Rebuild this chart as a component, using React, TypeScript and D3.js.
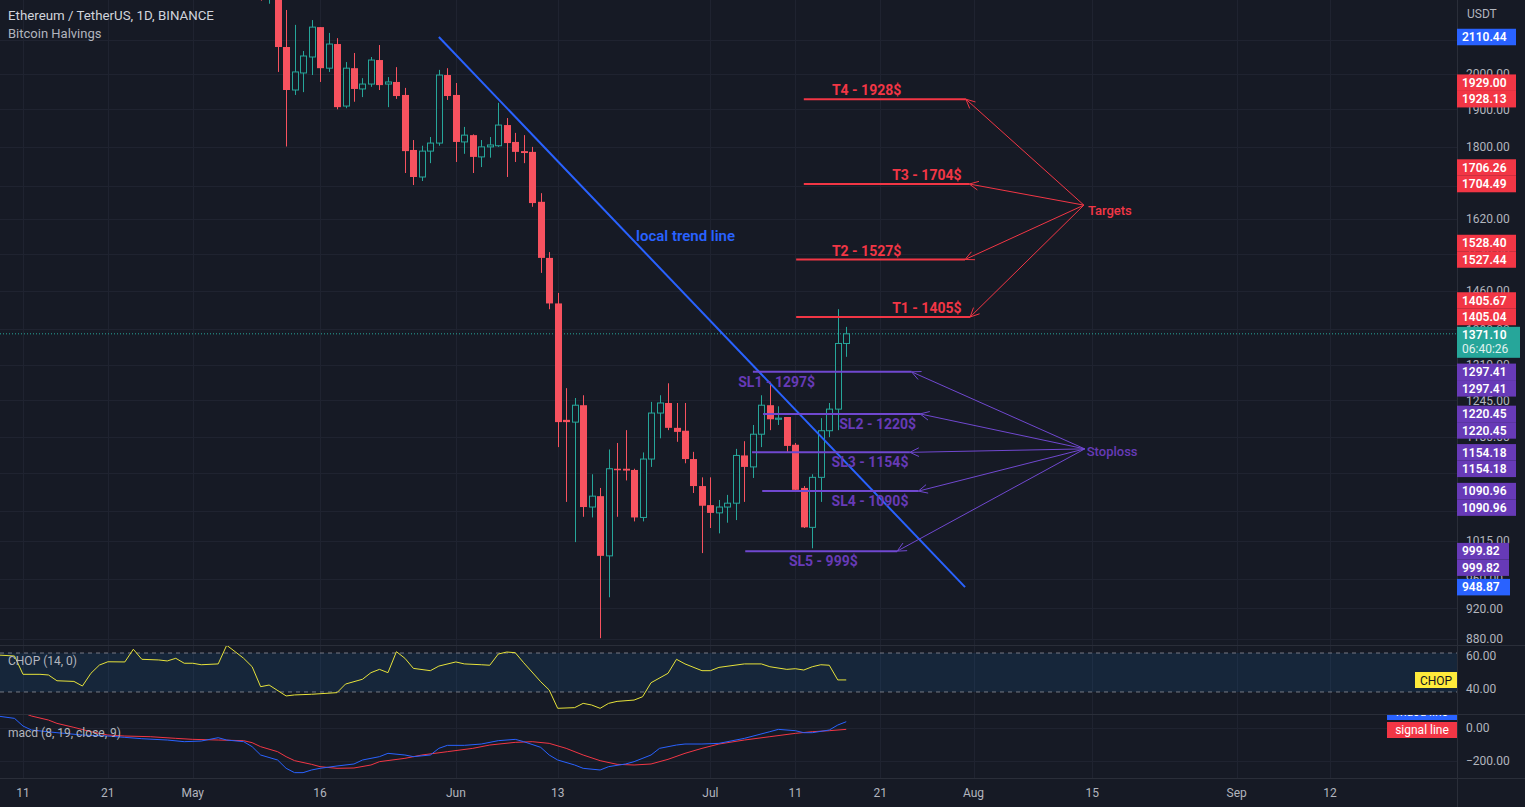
import React from 'react';
import * as d3 from 'd3';

// ---------- data ----------
const candleStart = Date.UTC(2022, 4, 9);
const opens = [2520, 2232, 2342, 2080, 1954, 2003, 2050, 2141, 2017, 2089, 1909, 2017, 1957, 1971, 2041, 1971, 1977, 1940, 1791, 1722, 1788, 1809, 1997, 1940, 1812, 1830, 1773, 1799, 1802, 1857, 1812, 1788, 1786, 1661, 1531, 1433, 1210, 1206, 1236, 1066, 1083, 993, 1127, 1127, 1125, 1050, 1143, 1222, 1240, 1196, 1191, 1143, 1099, 1069, 1057, 1066, 1072, 1149, 1130, 1185, 1236, 1211, 1215, 1167, 1096, 1035, 1113, 1191, 1229, 1352];
const highs = [2545, 2450, 2440, 2195, 2148, 2068, 2163, 2141, 2123, 2107, 2035, 2062, 1988, 2050, 2086, 1991, 2020, 1960, 1817, 1802, 1825, 2012, 2017, 1974, 1852, 1832, 1817, 1825, 1918, 1876, 1836, 1830, 1799, 1682, 1544, 1455, 1267, 1249, 1254, 1118, 1096, 1159, 1170, 1192, 1127, 1154, 1242, 1254, 1276, 1240, 1240, 1155, 1113, 1113, 1077, 1085, 1160, 1173, 1201, 1254, 1273, 1234, 1215, 1170, 1099, 1118, 1213, 1240, 1421, 1385];
const lows = [2225, 2215, 2006, 1800, 1940, 1948, 1997, 1977, 2006, 1900, 1903, 1921, 1934, 1963, 1954, 1906, 1929, 1732, 1702, 1712, 1757, 1802, 1926, 1760, 1781, 1732, 1747, 1771, 1799, 1722, 1760, 1757, 1649, 1498, 1421, 1163, 1074, 1013, 1051, 1050, 881, 935, 1051, 1108, 1044, 1044, 1130, 1178, 1192, 1172, 1136, 1088, 997, 1034, 1026, 1042, 1046, 1074, 1112, 1163, 1192, 1201, 1155, 1090, 1034, 1004, 1074, 1180, 1192, 1326];
const closes = [2232, 2342, 2080, 1954, 2006, 2053, 2141, 2017, 2089, 1906, 2017, 1957, 1971, 2041, 1968, 1977, 1937, 1788, 1722, 1788, 1809, 1997, 1937, 1812, 1830, 1773, 1799, 1804, 1857, 1809, 1786, 1783, 1658, 1531, 1433, 1206, 1206, 1236, 1066, 1083, 993, 1127, 1125, 1124, 1050, 1143, 1222, 1240, 1196, 1189, 1143, 1099, 1068, 1057, 1066, 1072, 1149, 1130, 1185, 1236, 1211, 1213, 1165, 1093, 1035, 1113, 1191, 1229, 1352, 1371.1];

// day offsets from Apr 11 2022, value
const chopPoints: [number, number][] = [[-3, 60.6], [-1, 60], [0, 48.9], [2, 48.9], [3, 48.5], [4, 45.0], [6, 44.6], [7, 41.8], [8, 49.5], [9, 54.5], [10, 56.5], [12, 56.4], [13, 64.1], [14, 58.0], [16, 57.6], [17, 57.0], [18, 58.6], [19, 55.6], [20, 55.6], [21, 54.7], [23, 55.2], [24, 66.5], [25, 62.6], [26, 58.6], [27, 53.5], [28, 41.4], [29, 42.4], [31, 35.8], [32, 36.4], [34, 36.8], [37, 37.8], [38, 43.0], [40, 45.9], [41, 49.9], [42, 51.9], [43, 49.9], [44, 62.6], [45, 58.6], [46, 52.5], [48, 51.1], [49, 53.9], [51, 56.4], [52, 55.2], [54, 54.7], [55, 54.4], [56, 61.2], [57, 62.4], [58, 62.0], [59, 55.9], [61, 44.4], [62, 39.4], [63, 28.3], [65, 28.7], [66, 31.3], [67, 30.3], [68, 28.3], [69, 31.3], [70, 32.5], [72, 33.3], [73, 35.3], [74, 43.8], [76, 49.5], [77, 58.0], [78, 55.2], [80, 51.1], [81, 51.1], [82, 53.1], [85, 55.2], [87, 55.2], [88, 53.5], [90, 51.9], [91, 52.3], [92, 51.5], [93, 53.5], [94, 54.7], [95, 54.4], [96, 45.5], [97, 45.5]];
const macdPoints: [number, number][] = [[-3, 70], [-1, 56], [0, 10], [1, -14], [4, -30], [7, -44], [10, -50], [12, -58], [14, -66], [17, -74], [19, -84], [21, -80], [23, -60], [24, -74], [26, -84], [27, -114], [28, -164], [30, -194], [31, -244], [32, -270], [33, -270], [34, -254], [35, -244], [37, -230], [39, -218], [40, -194], [42, -174], [43, -154], [45, -164], [46, -174], [48, -164], [49, -124], [50, -106], [52, -106], [54, -98], [56, -78], [58, -70], [59, -84], [61, -118], [62, -164], [63, -194], [65, -224], [66, -244], [68, -254], [69, -234], [71, -218], [72, -204], [74, -164], [75, -124], [77, -104], [78, -98], [80, -98], [82, -94], [85, -64], [88, -24], [89, -10], [91, -18], [92, -30], [93, -30], [95, -14], [96, 16], [97, 36]];
const signalPoints: [number, number][] = [[0, 90], [1, 70], [3, 46], [4, 26], [6, 2], [8, -24], [10, -44], [12, -50], [15, -54], [18, -64], [20, -70], [23, -74], [26, -78], [27, -90], [28, -114], [30, -144], [31, -174], [32, -198], [34, -220], [35, -234], [37, -244], [39, -242], [41, -224], [42, -204], [45, -184], [47, -164], [50, -144], [53, -124], [55, -104], [58, -88], [60, -84], [62, -94], [64, -124], [66, -164], [68, -198], [70, -220], [72, -224], [74, -218], [76, -190], [78, -154], [80, -124], [82, -98], [85, -74], [88, -54], [91, -34], [93, -24], [95, -18], [97, -10]];

const priceTicks = [2100, 2000, 1900, 1800, 1700, 1620, 1540, 1460, 1380, 1310, 1245, 1180, 1120, 1060, 1015, 960, 920, 880];
const timeTickDays = [0, 10, 20, 35, 51, 63, 81, 91, 101, 112, 126, 143, 154];
const timeTickLabels = ['11', '21', 'May', '16', 'Jun', '13', 'Jul', '11', '21', 'Aug', '15', 'Sep', '12'];

const trendStart = { day: 49, price: 2110.44 };
const trendEnd = { day: 111, price: 948.87 };

const targetLabels = ['T4 - 1928$', 'T3 - 1704$', 'T2 - 1527$', 'T1 - 1405$'];
const targetPrices = [1928.13, 1704.49, 1527.44, 1405.04];
const targetUpperPrices = [1929.0, 1706.26, 1528.4, 1405.67];
const targetStartDays = [92, 92, 91.1, 91.1];
const targetEndDays = [111.1, 111.5, 111, 111.6];
const targetTextDays = [99.4, 106.5, 99.4, 106.5];
const targetsHub = { day: 125, price: 1653 };

const stopLabels = ['SL1 - 1297$', 'SL2 - 1220$', 'SL3 - 1154$', 'SL4 - 1090$', 'SL5 - 999$'];
const stopPrices = [1297.41, 1220.45, 1154.18, 1090.96, 999.82];
const stopStartDays = [86, 87.2, 85.9, 87.1, 85.1];
const stopEndDays = [104.7, 105.7, 104.5, 105.5, 103];
const stopTextDays = [88.8, 100.7, 99.8, 99.8, 94.3];
const stoplossHub = { day: 125.1, price: 1160 };

const lastPrice = 1371.1;
const countdown = '06:40:26';

// ---------- styles ----------
const W = 1525, H = 807;
const AX = 1457;
const BG = '#161a25';
const GRID = '#1f2330';
const BORDER = '#2a2e39';
const TXT = '#b2b5be';
const RED = '#f23645';
const CRED = '#f7525f';
const GREEN = '#26a69a';
const PURPLE = '#673ab7';
const PLINE = '#7048d0';
const BLUE = '#2962ff';
const FONT = 'Roboto, "Noto Sans", sans-serif';

const BASE = Date.UTC(2022, 3, 11);
const DAY = 86400000;
const dd = (d: number) => new Date(BASE + d * DAY);

export default function App() {
  React.useEffect(() => {
    document.body.style.margin = '0';
    document.body.style.background = BG;
  }, []);

  const x = d3.scaleUtc().domain([dd(0), dd(154)]).range([23, 1330]);
  const xd = (d: number) => x(dd(d));
  const y = d3.scaleLog().domain([2000, 880]).range([74, 639]);
  const cy = d3.scaleLinear().domain([60, 40]).range([656, 689]);
  const my = d3.scaleLinear().domain([0, -200]).range([727.7, 761]);
  const fmt = d3.format('.2f');

  const candles = opens.map((o, i) => ({ t: new Date(candleStart + i * DAY), o, h: highs[i], l: lows[i], c: closes[i] }));

  const chopLine = d3.line<[number, number]>().x(p => xd(p[0])).y(p => cy(p[1]))(chopPoints) || '';
  const macdLine = d3.line<[number, number]>().x(p => xd(p[0])).y(p => my(p[1]))(macdPoints) || '';
  const sigLine = d3.line<[number, number]>().x(p => xd(p[0])).y(p => my(p[1]))(signalPoints) || '';

  // axis boxes: centre y ranges, used to hide fully covered tick labels
  const boxCentres: number[] = [y(trendStart.price), y(trendEnd.price), y(lastPrice), y(lastPrice) + 14];
  targetPrices.forEach(p => { boxCentres.push(y(p), y(p) - 16.5); });
  stopPrices.forEach(p => { boxCentres.push(y(p), y(p) + 16.5); });
  const hidden = (ty: number) => boxCentres.some(c => Math.abs(c - ty) < 3.5);

  const arrowHead = (x1: number, y1: number, x2: number, y2: number, color: string, key: string) => {
    const a = Math.atan2(y1 - y2, x1 - x2);
    const L = 10, s = 0.45;
    return (
      <g key={key}>
        <line x1={x1} y1={y1} x2={x2} y2={y2} stroke={color} strokeWidth={1} />
        <path d={`M${x2 + L * Math.cos(a + s)},${y2 + L * Math.sin(a + s)} L${x2},${y2} L${x2 + L * Math.cos(a - s)},${y2 + L * Math.sin(a - s)}`} fill="none" stroke={color} strokeWidth={1} />
      </g>
    );
  };

  const axisBox = (yc: number, text: string, fill: string, key: string, w = 59, color = '#fff') => (
    <g key={key}>
      <rect x={AX} y={yc - 8.25} width={w} height={16.5} fill={fill} />
      <text x={AX + 5} y={yc + 4.3} fill={color} fontSize={12} fontWeight={600} fontFamily={FONT}>{text}</text>
    </g>
  );

  return (
    <svg width={W} height={H} style={{ position: 'absolute', left: 0, top: 0, background: BG }} fontFamily={FONT}>
      <defs>
        <clipPath id="mainClip"><rect x={0} y={0} width={AX} height={645} /></clipPath>
        <clipPath id="chopClip"><rect x={0} y={646} width={AX} height={68} /></clipPath>
        <clipPath id="macdClip"><rect x={0} y={715} width={AX} height={63} /></clipPath>
      </defs>
      <rect x={0} y={0} width={W} height={H} fill={BG} />

      {/* grid */}
      <g clipPath="url(#mainClip)">
        {priceTicks.map(t => <line key={'g' + t} x1={0} x2={AX} y1={Math.round(y(t)) + 0.5} y2={Math.round(y(t)) + 0.5} stroke={GRID} />)}
      </g>
      {timeTickDays.map(d => <line key={'v' + d} x1={Math.round(xd(d)) + 0.5} x2={Math.round(xd(d)) + 0.5} y1={0} y2={778} stroke={GRID} />)}
      <line x1={0} x2={AX} y1={Math.round(my(0)) + 0.5} y2={Math.round(my(0)) + 0.5} stroke={GRID} />
      <line x1={0} x2={AX} y1={Math.round(my(-200)) + 0.5} y2={Math.round(my(-200)) + 0.5} stroke={GRID} />

      {/* main pane */}
      <g clipPath="url(#mainClip)">
        <line x1={0} x2={AX} y1={y(lastPrice)} y2={y(lastPrice)} stroke={GREEN} strokeDasharray="1 2" strokeWidth={1} />
        {candles.map((k, i) => {
          const cx = Math.round(x(k.t)) + 0.5;
          const up = k.c >= k.o;
          const top = y(Math.max(k.o, k.c));
          const bot = y(Math.min(k.o, k.c));
          const col = up ? GREEN : CRED;
          return (
            <g key={'c' + i}>
              <line x1={cx} x2={cx} y1={y(k.h)} y2={y(k.l)} stroke={col} strokeWidth={1} />
              {up ? (
                <rect x={cx - 3} y={top} width={6} height={Math.max(1, bot - top)} fill={BG} stroke={col} strokeWidth={1} />
              ) : (
                <rect x={cx - 3.5} y={top} width={7} height={Math.max(1.5, bot - top)} fill={col} />
              )}
            </g>
          );
        })}

        {/* trend line */}
        <line x1={xd(trendStart.day)} y1={y(trendStart.price)} x2={xd(trendEnd.day)} y2={y(trendEnd.price)} stroke={BLUE} strokeWidth={2} />
        <text x={636} y={241} fill={BLUE} fontSize={15} fontWeight={600}>local trend line</text>

        {/* targets */}
        {targetPrices.map((p, i) => (
          <g key={'t' + i}>
            <line x1={xd(targetStartDays[i])} x2={xd(targetEndDays[i])} y1={y(p)} y2={y(p)} stroke={RED} strokeWidth={2} />
            <text x={xd(targetTextDays[i])} y={y(p) - 4} fill={RED} fontSize={14} fontWeight={700} textAnchor="middle">{targetLabels[i]}</text>
            {arrowHead(xd(targetsHub.day), y(targetsHub.price), xd(targetEndDays[i]), y(p), RED, 'ta' + i)}
          </g>
        ))}
        <text x={xd(targetsHub.day) + 4} y={y(targetsHub.price) + 10} fill={RED} fontSize={13} fontWeight={500}>Targets</text>

        {/* stoploss */}
        {stopPrices.map((p, i) => (
          <g key={'s' + i}>
            <line x1={xd(stopStartDays[i])} x2={xd(stopEndDays[i])} y1={y(p)} y2={y(p)} stroke={PLINE} strokeWidth={2} />
            <text x={xd(stopTextDays[i])} y={y(p) + 15} fill={PURPLE} fontSize={14} fontWeight={700} textAnchor="middle">{stopLabels[i]}</text>
            {arrowHead(xd(stoplossHub.day), y(stoplossHub.price), xd(stopEndDays[i]), y(p), PLINE, 'sa' + i)}
          </g>
        ))}
        <text x={xd(stoplossHub.day) + 2} y={y(stoplossHub.price) + 7} fill={PURPLE} fontSize={13} fontWeight={500}>Stoploss</text>
      </g>

      {/* title */}
      <text x={8} y={20} fill="#d1d4dc" fontSize={13.3}>Ethereum / TetherUS, 1D, BINANCE</text>
      <text x={8} y={38} fill={TXT} fontSize={13}>Bitcoin Halvings</text>

      {/* CHOP pane */}
      <g clipPath="url(#chopClip)">
        <rect x={0} y={cy(61.8)} width={AX} height={cy(38.2) - cy(61.8)} fill="rgba(33,150,243,0.1)" />
        <line x1={0} x2={AX} y1={cy(61.8)} y2={cy(61.8)} stroke="#787b86" strokeDasharray="4 4" />
        <line x1={0} x2={AX} y1={cy(38.2)} y2={cy(38.2)} stroke="#787b86" strokeDasharray="4 4" />
        <path d={chopLine} fill="none" stroke="#e6e23a" strokeWidth={1} />
        <rect x={1415} y={672} width={42} height={16} fill="#ffeb3b" />
        <text x={1436} y={684.5} fill="#131722" fontSize={12} textAnchor="middle">CHOP</text>
      </g>
      <text x={8} y={665} fill={TXT} fontSize={12}>CHOP (14, 0)</text>

      {/* MACD pane */}
      <g clipPath="url(#macdClip)">
        <path d={sigLine} fill="none" stroke={RED} strokeWidth={1} />
        <path d={macdLine} fill="none" stroke={BLUE} strokeWidth={1} />
        <rect x={1387} y={704} width={70} height={16} fill={BLUE} />
        <text x={1422} y={716} fill="#fff" fontSize={12} textAnchor="middle">macd line</text>
        <rect x={1387} y={722} width={70} height={16} fill={RED} />
        <text x={1422} y={734} fill="#fff" fontSize={12} textAnchor="middle">signal line</text>
      </g>
      <text x={8} y={737} fill={TXT} fontSize={12}>macd (8, 19, close, 9)</text>

      {/* separators */}
      <line x1={0} x2={W} y1={645.5} y2={645.5} stroke={BORDER} />
      <line x1={0} x2={W} y1={714.5} y2={714.5} stroke={BORDER} />
      <line x1={0} x2={W} y1={778.5} y2={778.5} stroke={BORDER} />
      <line x1={AX + 0.5} x2={AX + 0.5} y1={0} y2={H} stroke={BORDER} />

      {/* price axis */}
      <text x={1467} y={18} fill={TXT} fontSize={12}>USDT</text>
      {priceTicks.filter(t => !hidden(y(t))).map(t => <text key={'pt' + t} x={1466} y={y(t) + 4.3} fill={TXT} fontSize={12}>{fmt(t)}</text>)}
      <text x={1466} y={cy(60) + 4.3} fill={TXT} fontSize={12}>60.00</text>
      <text x={1466} y={cy(40) + 4.3} fill={TXT} fontSize={12}>40.00</text>
      <text x={1466} y={my(0) + 4.3} fill={TXT} fontSize={12}>0.00</text>
      <text x={1466} y={my(-200) + 4.3} fill={TXT} fontSize={12}>−200.00</text>

      {/* axis price boxes */}
      {axisBox(y(trendStart.price), fmt(trendStart.price), BLUE, 'b1')}
      {axisBox(y(trendEnd.price), fmt(trendEnd.price), BLUE, 'b2', 53)}
      {targetPrices.map((p, i) => (
        <g key={'tb' + i}>
          {axisBox(y(p) - 16.5, fmt(targetUpperPrices[i]), RED, 'tbu' + i)}
          {axisBox(y(p), fmt(p), RED, 'tbl' + i)}
        </g>
      ))}
      {stopPrices.map((p, i) => (
        <g key={'sb' + i}>
          {axisBox(y(p), fmt(p), PURPLE, 'sbu' + i, p < 1000 ? 52 : 59)}
          {axisBox(y(p) + 16.5, fmt(p), PURPLE, 'sbl' + i, p < 1000 ? 52 : 59)}
        </g>
      ))}
      <rect x={AX} y={y(lastPrice) - 7} width={63} height={31} fill={GREEN} />
      <text x={AX + 5} y={y(lastPrice) + 5} fill="#fff" fontSize={12} fontWeight={600}>{fmt(lastPrice)}</text>
      <text x={AX + 5} y={y(lastPrice) + 19.5} fill="#e0f2ef" fontSize={12}>{countdown}</text>

      {/* time axis */}
      {timeTickDays.map((d, i) => (
        <text key={'tt' + i} x={xd(d)} y={797} fill={TXT} fontSize={12} textAnchor="middle">{timeTickLabels[i]}</text>
      ))}
    </svg>
  );
}
